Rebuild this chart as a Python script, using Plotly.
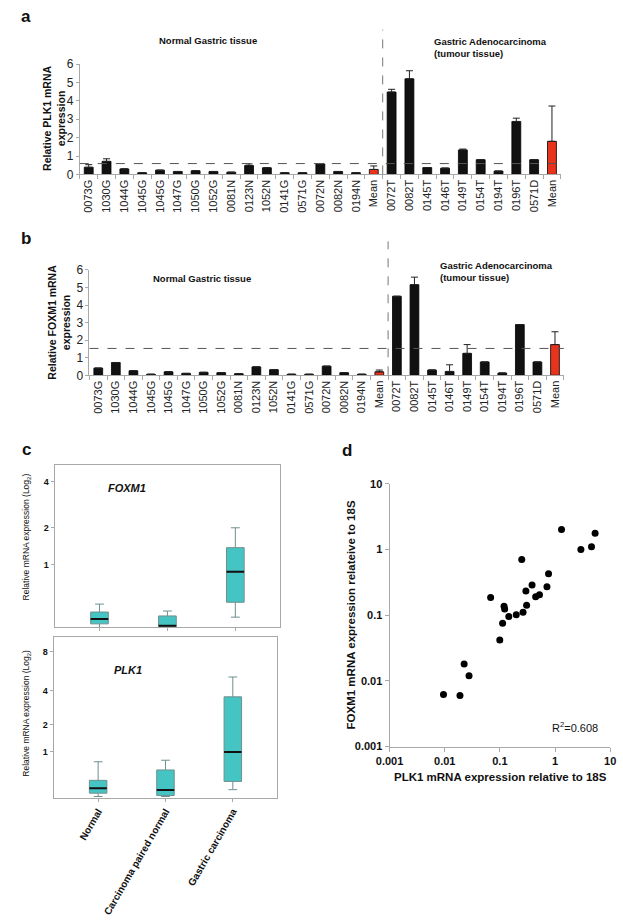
import numpy as np
import plotly.graph_objects as go

# ---------------- data ----------------
samples_normal = ["0073G", "1030G", "1044G", "1045G", "1045G", "1047G", "1050G", "1052G",
                  "0081N", "0123N", "1052N", "0141G", "0571G", "0072N", "0082N", "0194N", "Mean"]
samples_tumour = ["0072T", "0082T", "0145T", "0146T", "0149T", "0154T", "0194T", "0196T", "0571D", "Mean"]

plk1_normal = [0.39, 0.71, 0.30, 0.09, 0.23, 0.16, 0.20, 0.16, 0.12, 0.48, 0.36, 0.09, 0.09, 0.57, 0.16, 0.09, 0.27]
plk1_normal_err = [0.14, 0.14, 0, 0, 0, 0, 0, 0, 0, 0.09, 0, 0, 0, 0, 0, 0, 0.19]
plk1_tumour = [4.48, 5.20, 0.37, 0.34, 1.33, 0.80, 0.18, 2.88, 0.80, 1.80]
plk1_tumour_err = [0.15, 0.44, 0, 0, 0.05, 0, 0, 0.18, 0, 1.92]
plk1_cutoff = 0.59

foxm1_normal = [0.41, 0.73, 0.26, 0.06, 0.20, 0.11, 0.17, 0.15, 0.09, 0.48, 0.32, 0.06, 0.06, 0.52, 0.15, 0.06, 0.20]
foxm1_normal_err = [0, 0, 0, 0, 0, 0, 0, 0, 0, 0, 0, 0, 0, 0, 0, 0, 0.10]
foxm1_tumour = [4.50, 5.16, 0.30, 0.22, 1.25, 0.76, 0.13, 2.89, 0.76, 1.75]
foxm1_tumour_err = [0, 0.43, 0, 0.38, 0.50, 0, 0, 0, 0, 0.73]
foxm1_cutoff = 1.53

box_groups = ["Normal", "Carcinoma paired normal", "Gastric carcinoma"]
foxm1_lower = [0.0, 0.0, 0.12]
foxm1_q1 = [0.04, 0.007, 0.32]
foxm1_median = [0.098, 0.018, 0.85]
foxm1_q3 = [0.185, 0.135, 1.41]
foxm1_upper = [0.293, 0.198, 2.0]

plk1_lower = [0.02, 0.02, 0.13]
plk1_q1 = [0.072, 0.035, 0.28]
plk1_median = [0.153, 0.125, 0.99]
plk1_q3 = [0.30, 0.52, 3.57]
plk1_upper = [0.72, 0.76, 5.16]
box_ticks = [1, 2, 4, 8]

scatter_plk1 = [0.0095, 0.0189, 0.0225, 0.0276, 0.068, 0.0996, 0.112, 0.119, 0.122, 0.145, 0.198, 0.249,
                0.263, 0.296, 0.305, 0.383, 0.445, 0.522, 0.713, 0.762, 1.31, 2.94, 4.58, 5.32]
scatter_foxm1 = [0.0062, 0.0060, 0.018, 0.012, 0.186, 0.0417, 0.075, 0.136, 0.124, 0.095, 0.101, 0.70,
                 0.111, 0.232, 0.141, 0.288, 0.19, 0.204, 0.269, 0.427, 2.0, 1.0, 1.1, 1.76]
r2_text = "R<sup>2</sup>=0.608"

# ---------------- helpers ----------------
W, H = 623, 921
FONT = "Arial, Liberation Sans, sans-serif"
BLACK = "#111111"
RED = "#E8341C"
TEAL = "#45C4C4"
AX = "#A8A8A8"


def px(x):
    return x / W


def py(y):
    return 1 - y / H


fig = go.Figure()
annotations = []
shapes = []


def bar_panel(idx, normal, normal_err, tumour, tumour_err, cutoff, xdom, ydom, vline_top):
    labels = samples_normal + samples_tumour
    vals = list(normal) + list(tumour)
    errs = list(normal_err) + list(tumour_err)
    xs = np.arange(len(labels))
    colors = [RED if lab == "Mean" else BLACK for lab in labels]
    xa = "x" if idx == 1 else f"x{idx}"
    ya = "y" if idx == 1 else f"y{idx}"
    fig.add_trace(go.Bar(
        x=xs, y=vals, xaxis=xa, yaxis=ya,
        marker=dict(color=colors, line=dict(color="#000000", width=0.8)),
        error_y=dict(type="data", array=errs, arrayminus=[0] * len(errs), symmetric=False,
                     color="#222222", thickness=1, width=3.5),
        showlegend=False, hoverinfo="skip"))
    key = "" if idx == 1 else str(idx)
    fig.layout["xaxis" + key] = dict(
        domain=xdom, anchor=ya, range=[-0.5, len(labels) - 0.5],
        tickmode="array", tickvals=xs, ticktext=labels, tickangle=-90,
        ticks="", showline=True, linecolor=AX, linewidth=1,
        tickfont=dict(family=FONT, size=11, color="#222"),
        minor=dict(tickmode="array", tickvals=np.arange(len(labels) + 1) - 0.5,
                   ticks="outside", ticklen=4, tickcolor=AX),
        showgrid=False, zeroline=False, fixedrange=True)
    fig.layout["yaxis" + key] = dict(
        domain=ydom, anchor=xa, range=[0, 6], tickvals=[0, 1, 2, 3, 4, 5, 6],
        ticks="outside", ticklen=3, tickcolor=AX, showline=True, linecolor=AX,
        tickfont=dict(family=FONT, size=12, color="#222"),
        showgrid=False, zeroline=False, fixedrange=True)
    shapes.append(dict(type="line", xref=xa + " domain", yref=ya, x0=0, x1=1,
                       y0=cutoff, y1=cutoff, line=dict(color="#555", width=1, dash="dash")))
    split = len(samples_normal) - 0.5
    shapes.append(dict(type="line", xref=xa, yref="paper", x0=split, x1=split,
                       y0=ydom[0], y1=vline_top, line=dict(color="#777", width=1, dash="dash")))


bar_panel(1, plk1_normal, plk1_normal_err, plk1_tumour, plk1_tumour_err, plk1_cutoff,
          [px(68), px(565)], [py(170), py(58)], py(23))
bar_panel(2, foxm1_normal, foxm1_normal_err, foxm1_tumour, foxm1_tumour_err, foxm1_cutoff,
          [px(78), px(568)], [py(374), py(267)], py(238))


def T(v):
    return np.log2(np.asarray(v, dtype=float) + 1)


def box_panel(idx, lower, q1, med, q3, upper, xdom, ydom, ymax, show_x):
    xa, ya = f"x{idx}", f"y{idx}"
    xs = np.arange(len(box_groups))
    bw = 0.26
    fig.add_trace(go.Box(
        x=xs, q1=T(q1), median=T(med), q3=T(q3), lowerfence=T(lower), upperfence=T(upper),
        xaxis=xa, yaxis=ya, width=bw, whiskerwidth=0.5,
        fillcolor=TEAL, line=dict(color="#6f8f8f", width=1),
        showlegend=False, hoverinfo="skip"))
    for xi, m in zip(xs, med):
        fig.add_trace(go.Scatter(
            x=[xi - bw / 2, xi + bw / 2], y=[T(m), T(m)], xaxis=xa, yaxis=ya,
            mode="lines", line=dict(color="#111", width=2), showlegend=False, hoverinfo="skip"))
    fig.layout[f"xaxis{idx}"] = dict(
        domain=xdom, anchor=ya, range=[-0.66, len(box_groups) - 1 + 0.66],
        tickmode="array", tickvals=xs, ticktext=box_groups, showticklabels=show_x,
        tickangle=-60, ticks="outside", ticklen=3, tickcolor=AX,
        showline=True, linecolor=AX, mirror=True,
        tickfont=dict(family=FONT, size=10, color="#111", weight="bold"),
        showgrid=False, zeroline=False, fixedrange=True)
    tv = [t for t in box_ticks if t <= ymax]
    fig.layout[f"yaxis{idx}"] = dict(
        domain=ydom, anchor=xa, range=[0, float(T(ymax))],
        tickmode="array", tickvals=T(tv), ticktext=[str(t) for t in tv],
        ticks="outside", ticklen=3, tickcolor=AX, showline=True, linecolor=AX, mirror=True,
        tickfont=dict(family=FONT, size=9, color="#111", weight="bold"),
        showgrid=False, zeroline=False, fixedrange=True)


box_panel(3, foxm1_lower, foxm1_q1, foxm1_median, foxm1_q3, foxm1_upper,
          [px(42), px(275)], [py(630), py(465)], 5.0, False)
box_panel(4, plk1_lower, plk1_q1, plk1_median, plk1_q3, plk1_upper,
          [px(41), px(272)], [py(803), py(640)], 10.2, True)

# ---- panel d scatter ----
fig.add_trace(go.Scatter(
    x=scatter_plk1, y=scatter_foxm1, xaxis="x5", yaxis="y5", mode="markers",
    marker=dict(color="#000", size=7), showlegend=False, hoverinfo="skip"))
dec = [0.001, 0.01, 0.1, 1, 10]
fig.layout["xaxis5"] = dict(
    domain=[px(388), px(616)], anchor="y5", type="log", range=[-3, 1],
    tickmode="array", tickvals=dec, ticktext=[str(d) for d in dec],
    ticks="outside", ticklen=4, tickcolor=AX, showline=True, linecolor=AX,
    tickfont=dict(family=FONT, size=11, color="#111", weight="bold"),
    showgrid=False, zeroline=False, fixedrange=True)
fig.layout["yaxis5"] = dict(
    domain=[py(751), py(484)], anchor="x5", type="log", range=[-3, 1],
    tickmode="array", tickvals=dec, ticktext=[str(d) for d in dec],
    ticks="outside", ticklen=4, tickcolor=AX, showline=True, linecolor=AX,
    tickfont=dict(family=FONT, size=11, color="#111", weight="bold"),
    showgrid=False, zeroline=False, fixedrange=True)


def ann(text, x, y, size, bold=False, italic=False, xanchor="center", yanchor="middle", angle=0, color="#111", align="center"):
    t = text
    if bold:
        t = f"<b>{t}</b>"
    if italic:
        t = f"<i>{t}</i>"
    annotations.append(dict(text=t, x=px(x), y=py(y), xref="paper", yref="paper", showarrow=False,
                            xanchor=xanchor, yanchor=yanchor, textangle=angle, align=align,
                            font=dict(family=FONT, size=size, color=color)))


# panel letters
ann("a", 12, 10, 17, bold=True)
ann("b", 12, 235, 17, bold=True)
ann("c", 13, 449, 17, bold=True)
ann("d", 344, 450, 17, bold=True)

# panel a / b text
ann("Normal Gastric tissue", 200, 34, 9.5, bold=True)
ann("Gastric Adenocarcinoma<br>(tumour tissue)", 432, 41.5, 9.5, bold=True, xanchor="left", align="left")
ann("Relative PLK1 mRNA<br>expression", 42, 113, 10.5, bold=True, angle=-90)
ann("Normal Gastric tissue", 194, 276, 9.5, bold=True)
ann("Gastric Adenocarcinoma<br>(tumour tissue)", 438, 268.5, 9.5, bold=True, xanchor="left", align="left")
ann("Relative FOXM1 mRNA<br>expression", 47, 320, 10.5, bold=True, angle=-90)

# panel c text
ann("FOXM1", 117, 488, 11, bold=True, italic=True)
ann("PLK1", 118, 673, 11, bold=True, italic=True)
ann("Relative mRNA expression (Log<sub>2</sub>)", 13, 538, 8.5, angle=-90)
ann("Relative mRNA expression (Log<sub>2</sub>)", 13, 717, 8.5, angle=-90)

# panel d text
ann("PLK1 mRNA expression relative to 18S", 503, 782, 11.5, bold=True)
ann("FOXM1 mRNA expression relateive to 18S", 348, 617, 11.5, bold=True, angle=-90)
ann(r2_text, 580, 731, 11)

fig.update_layout(
    width=W, height=H, margin=dict(l=0, r=0, t=0, b=0),
    paper_bgcolor="white", plot_bgcolor="white",
    bargap=0.5, annotations=annotations, shapes=shapes,
    font=dict(family=FONT),
)

fig.write_html("out.html", config={"displayModeBar": False},
               post_script="document.body.style.margin='0';document.body.style.overflow='hidden';")
